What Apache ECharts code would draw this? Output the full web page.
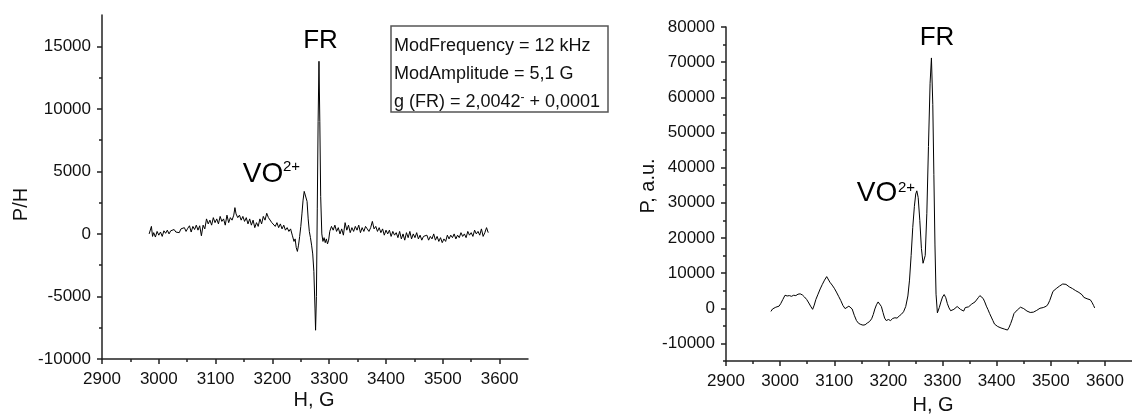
<!DOCTYPE html>
<html><head><meta charset="utf-8">
<script src="https://cdn.jsdelivr.net/npm/echarts@6/dist/echarts.min.js"></script>
<style>html,body{margin:0;padding:0;background:#fff}#c{width:1132px;height:414px}</style>
</head><body><div id="c"></div>
<script>
const FONT = "'Liberation Sans', Arial, sans-serif";

const xTicks = [2900, 3000, 3100, 3200, 3300, 3400, 3500, 3600];
const yTicksLeft = [-10000, -5000, 0, 5000, 10000, 15000];
const yTicksRight = [-10000, 0, 10000, 20000, 30000, 40000, 50000, 60000, 70000, 80000];
const yMinorRight = [-15000, -10000, -5000, 0, 5000, 10000, 15000, 20000, 25000, 30000, 35000, 40000, 45000, 50000, 55000, 60000, 65000, 70000, 75000, 80000];

const legendLines = ['ModFrequency = 12 kHz', 'ModAmplitude = 5,1 G'];
const legendG = ['g (FR) = 2,0042', '-', ' + 0,0001'];

// left panel: derivative spectrum P/H vs H, G
const derivativeSpectrum = [
[2983,0],[2985,-150],[2987,600],[2989,-200],[2991,100],[2994,-250],[2997,200],[3000,-100],[3003,150],[3006,-200],
[3009,250],[3012,50],[3015,300],[3018,0],[3021,250],[3024,100],[3027,350],[3030,150],[3033,300],[3036,100],
[3039,400],[3042,250],[3045,500],[3048,200],[3051,450],[3054,650],[3057,150],[3060,600],[3063,350],[3066,700],
[3069,300],[3072,650],[3075,-150],[3078,700],[3081,400],[3084,1200],[3087,800],[3090,1100],[3093,700],[3096,1300],
[3099,900],[3102,1200],[3105,800],[3108,1400],[3111,1000],[3114,1200],[3117,700],[3120,1500],[3123,900],[3126,1300],
[3129,1100],[3132,1500],[3134,2100],[3136,1600],[3139,1300],[3142,1500],[3145,1100],[3148,1400],[3151,1000],[3154,1300],
[3157,800],[3160,1200],[3163,700],[3166,1100],[3169,500],[3172,900],[3175,600],[3178,1200],[3181,800],[3184,1400],
[3187,1100],[3190,1650],[3193,1300],[3196,1400],[3199,900],[3202,1000],[3205,600],[3208,900],[3211,500],[3214,800],
[3217,400],[3220,700],[3223,300],[3226,500],[3229,200],[3232,400],[3235,-100],[3238,-600],[3240,-400],[3242,-1100],
[3244,-1400],[3246,-900],[3248,-200],[3250,600],[3252,1600],[3254,2700],[3256,3400],[3257.5,3550],[3259,3300],[3261,2600],
[3263,1200],[3265,200],[3267,-300],[3269,-900],[3271,-1600],[3273,-3000],[3275,-6000],[3276,-7700],[3277.5,-5000],[3279,2000],
[3280.5,9000],[3282,13800],[3283.5,9000],[3285,3000],[3287,0],[3289,-600],[3291,-300],[3293,-700],[3295,-400],[3297,-800],
[3299,-500],[3301,200],[3304,600],[3307,300],[3310,700],[3313,200],[3316,500],[3319,0],[3322,400],[3325,-100],
[3328,900],[3331,300],[3334,700],[3337,100],[3340,500],[3343,200],[3346,600],[3349,300],[3352,700],[3355,100],
[3358,500],[3361,200],[3364,600],[3367,400],[3370,200],[3373,500],[3376,1000],[3379,400],[3382,600],[3385,200],
[3388,500],[3391,100],[3394,400],[3397,-100],[3400,300],[3403,0],[3406,300],[3409,-200],[3412,200],[3415,-100],
[3418,100],[3421,-300],[3424,200],[3427,-400],[3430,0],[3433,-500],[3436,100],[3439,-300],[3442,200],[3445,-400],
[3448,0],[3451,-300],[3454,100],[3457,-400],[3460,-100],[3463,-500],[3466,-200],[3469,-300],[3472,-100],[3475,-500],
[3478,-200],[3481,-400],[3484,0],[3487,-500],[3490,-200],[3493,-600],[3496,-300],[3499,-700],[3502,-400],[3505,-600],
[3508,-100],[3511,-400],[3514,-100],[3517,-300],[3520,0],[3523,-400],[3526,-100],[3529,-300],[3532,100],[3535,-200],
[3538,0],[3541,-300],[3544,200],[3547,-100],[3550,100],[3553,-200],[3556,300],[3559,0],[3562,200],[3565,-100],
[3568,400],[3571,-200],[3574,100],[3577,500],[3580,100]
];

// right panel: integrated spectrum P, a.u. vs H, G
const integratedSpectrum = [
[2983,-900],[2986,-200],[2989,-300],[2992,300],[2995,0],[2998,600],[3001,1300],[3005,2500],[3009,3700],[3013,3500],
[3017,3600],[3021,3400],[3025,3700],[3029,3600],[3033,4000],[3037,4100],[3041,3800],[3045,3200],[3049,2500],[3053,1500],
[3057,400],[3060,-300],[3063,900],[3066,2500],[3070,4000],[3074,5500],[3078,6800],[3082,8000],[3086,9000],[3089,8600],
[3092,7400],[3096,6600],[3100,5700],[3104,4600],[3108,3400],[3112,2200],[3116,800],[3120,-100],[3123,0],[3127,600],
[3130,700],[3133,-200],[3137,-2000],[3141,-3500],[3145,-4300],[3149,-4600],[3153,-4800],[3157,-4700],[3161,-4200],[3165,-3800],
[3169,-3000],[3172,-1800],[3175,-200],[3178,1000],[3181,1800],[3184,1500],[3187,500],[3190,-1200],[3193,-2800],[3196,-3500],
[3200,-3200],[3204,-3500],[3208,-2900],[3212,-2700],[3216,-2800],[3220,-2200],[3224,-1700],[3228,-1000],[3232,500],[3236,3500],
[3239,8000],[3242,15000],[3245,23000],[3248,29000],[3250.5,32500],[3252.5,33400],[3255,31500],[3258,25000],[3261,17000],[3264,12800],
[3265.5,12400],[3268,15000],[3271,27000],[3274,46000],[3277,64000],[3279.5,71200],[3282,58000],[3284,38000],[3286,18000],[3288,4000],
[3290.5,-1300],[3294,200],[3297,1800],[3300,3200],[3303,3900],[3306,3000],[3309,1300],[3312,100],[3315,-700],[3318,-900],
[3321,-300],[3324,-500],[3327,500],[3330,700],[3333,-300],[3336,200],[3339,-800],[3342,200],[3345,-100],[3348,400],
[3351,700],[3354,1200],[3357,1200],[3360,1800],[3363,2000],[3366,3000],[3369,3600],[3372,3400],[3375,2800],[3378,1800],
[3381,600],[3384,-400],[3387,-1500],[3390,-2500],[3393,-3500],[3396,-4500],[3399,-5000],[3402,-5200],[3405,-5400],[3408,-5600],
[3411,-5600],[3414,-5900],[3417,-6000],[3420,-6200],[3423,-5400],[3426,-4300],[3429,-3000],[3432,-1500],[3435,-1200],[3438,-500],
[3441,0],[3444,300],[3447,0],[3450,-100],[3453,-400],[3456,-800],[3459,-1000],[3462,-1200],[3465,-1300],[3468,-1100],
[3471,-900],[3474,-600],[3477,-500],[3480,0],[3483,-200],[3486,200],[3489,300],[3492,600],[3495,1200],[3498,2200],
[3501,3500],[3504,4800],[3507,5300],[3510,5600],[3513,6000],[3516,6300],[3519,6600],[3522,6900],[3525,6700],[3528,6800],
[3531,6300],[3534,6100],[3537,5800],[3540,5600],[3543,5400],[3546,5000],[3549,4700],[3552,4500],[3555,4800],[3558,3800],
[3561,3100],[3564,2800],[3567,2700],[3570,2600],[3573,2400],[3576,1700],[3579,800],[3581,100]
];

const AX = '#222';
const plain = v => String(v);
function xAxisCfg(gi) {
  return {
    type: 'value', gridIndex: gi, min: 2900, max: 3650, interval: 100,
    axisLine: { show: true, onZero: false, lineStyle: { color: AX, width: 1.5 } },
    axisTick: { show: true, inside: false, length: 5, customValues: xTicks, lineStyle: { color: AX, width: 1.5 } },
    minorTick: { show: true, splitNumber: 2, length: 3, lineStyle: { color: AX, width: 1.5 } },
    axisLabel: { customValues: xTicks, formatter: plain, fontSize: 17, color: '#111', fontFamily: FONT, margin: 12 },
    splitLine: { show: false }
  };
}

const chart = echarts.init(document.getElementById('c'), null, { renderer: 'canvas' });
chart.setOption({
  animation: false,
  backgroundColor: '#fff',
  grid: [
    { left: 102, top: 15, width: 426, height: 344 },
    { left: 726, top: 27, width: 415, height: 334 }
  ],
  xAxis: [xAxisCfg(0), xAxisCfg(1)],
  yAxis: [
    {
      type: 'value', gridIndex: 0, min: -10000, max: 17500, interval: 5000, position: 'left',
      axisLine: { show: true, onZero: false, lineStyle: { color: AX, width: 1.5 } },
      axisTick: { show: true, length: 5, customValues: yTicksLeft, lineStyle: { color: AX, width: 1.5 } },
      minorTick: { show: true, splitNumber: 2, length: 3, lineStyle: { color: AX, width: 1.5 } },
      axisLabel: { customValues: yTicksLeft, formatter: plain, fontSize: 17, color: '#111', fontFamily: FONT, margin: 11 },
      splitLine: { show: false }
    },
    {
      type: 'value', gridIndex: 1, min: -15000, max: 80000, interval: 5000, position: 'left',
      axisLine: { show: true, onZero: false, lineStyle: { color: AX, width: 1.5 } },
      axisTick: { show: true, length: 5, customValues: yTicksRight, lineStyle: { color: AX, width: 1.5 } },
      minorTick: { show: false },
      axisLabel: { customValues: yTicksRight, formatter: plain, fontSize: 17, color: '#111', fontFamily: FONT, margin: 11 },
      splitLine: { show: false }
    },
    {
      type: 'value', gridIndex: 1, min: -15000, max: 80000, interval: 5000, position: 'left',
      axisLine: { show: false, onZero: false },
      axisTick: { show: true, length: 3, customValues: yMinorRight, lineStyle: { color: AX, width: 1.5 } },
      axisLabel: { show: false },
      splitLine: { show: false }
    }
  ],
  series: [
    { type: 'line', xAxisIndex: 0, yAxisIndex: 0, data: derivativeSpectrum, showSymbol: false, symbol: 'none',
      lineStyle: { color: '#000', width: 1 }, silent: true },
    { type: 'line', xAxisIndex: 1, yAxisIndex: 1, data: integratedSpectrum, showSymbol: false, symbol: 'none',
      lineStyle: { color: '#000', width: 1 }, silent: true }
  ],
  graphic: [
    { type: 'text', x: 314, y: 400.5, style: { text: 'H, G', fontSize: 20, fontFamily: FONT, fill: '#111', align: 'center', verticalAlign: 'middle' } },
    { type: 'text', x: 933, y: 405.5, style: { text: 'H, G', fontSize: 20, fontFamily: FONT, fill: '#111', align: 'center', verticalAlign: 'middle' } },
    { type: 'text', x: 21, y: 204.5, rotation: Math.PI / 2, style: { text: 'P/H', fontSize: 20, fontFamily: FONT, fill: '#111', align: 'center', verticalAlign: 'middle' } },
    { type: 'text', x: 648, y: 186, rotation: Math.PI / 2, style: { text: 'P, a.u.', fontSize: 20, fontFamily: FONT, fill: '#111', align: 'center', verticalAlign: 'middle' } },
    { type: 'rect', shape: { x: 391, y: 26, width: 217, height: 86 }, style: { fill: '#fff', stroke: '#555', lineWidth: 1.5 } },
    { type: 'text', x: 394, y: 46.5, style: { text: legendLines[0], fontSize: 18, fontFamily: FONT, fill: '#111', align: 'left', verticalAlign: 'middle' } },
    { type: 'text', x: 394, y: 74.5, style: { text: legendLines[1], fontSize: 18, fontFamily: FONT, fill: '#111', align: 'left', verticalAlign: 'middle' } },
    { type: 'text', x: 394, y: 102, style: {
        text: '{a|' + legendG[0] + '}{s|' + legendG[1] + '}{a|' + legendG[2] + '}',
        align: 'left', verticalAlign: 'middle',
        rich: {
          a: { fontSize: 18, fontFamily: FONT, fill: '#111', lineHeight: 20 },
          s: { fontSize: 12, fontFamily: FONT, fill: '#111', lineHeight: 12, verticalAlign: 'top' }
        } } },
    { type: 'text', x: 320.5, y: 41.2, style: { text: 'FR', fontSize: 26, fontFamily: FONT, fill: '#000', align: 'center', verticalAlign: 'middle' } },
    { type: 'text', x: 242.7, y: 174.5, style: { text: 'VO', fontSize: 28, fontFamily: FONT, fill: '#000', align: 'left', verticalAlign: 'middle' } },
    { type: 'text', x: 283, y: 167, style: { text: '2+', fontSize: 15, fontFamily: FONT, fill: '#000', align: 'left', verticalAlign: 'middle' } },
    { type: 'text', x: 937, y: 38, style: { text: 'FR', fontSize: 26, fontFamily: FONT, fill: '#000', align: 'center', verticalAlign: 'middle' } },
    { type: 'text', x: 856.7, y: 193.5, style: { text: 'VO', fontSize: 28, fontFamily: FONT, fill: '#000', align: 'left', verticalAlign: 'middle' } },
    { type: 'text', x: 898, y: 188, style: { text: '2+', fontSize: 15, fontFamily: FONT, fill: '#000', align: 'left', verticalAlign: 'middle' } }
  ]
});
</script></body></html>
